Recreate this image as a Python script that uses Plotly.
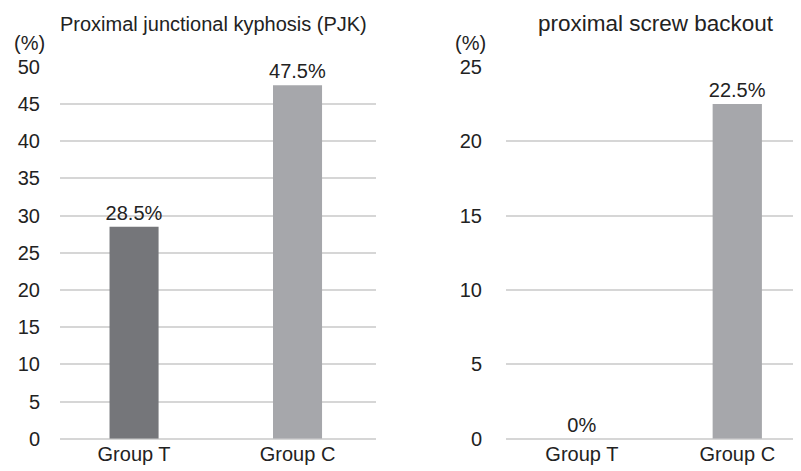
import plotly.graph_objects as go

categories = ["Group T", "Group C"]
pjk_values = [28.5, 47.5]
backout_values = [0, 22.5]
pjk_labels = ["28.5%", "47.5%"]
backout_labels = ["0%", "22.5%"]
bar_colors = ["#75767a", "#a6a7ab"]
left_title = "Proximal junctional kyphosis (PJK)"
right_title = "proximal screw backout"
unit_label = "(%)"

# page offset of the plot div (default body margin)
OFF = 8
W, H = 801 - OFF, 471 - OFF
FONT = "Liberation Sans, Arial, sans-serif"
TXT = "#222222"
GRID = "#d6d6d6"

def px(x):
    return (x - OFF) / W

def py(y):
    return 1 - (y - OFF) / H

fig = go.Figure()
fig.add_trace(go.Bar(
    x=categories, y=pjk_values, text=pjk_labels, textposition="outside",
    constraintext="none",
    marker=dict(color=bar_colors, line=dict(width=0)), width=0.3,
    textfont=dict(size=20, color=TXT, family=FONT), cliponaxis=False,
    xaxis="x", yaxis="y", showlegend=False, hoverinfo="skip"))
fig.add_trace(go.Bar(
    x=categories, y=backout_values, text=backout_labels, textposition="outside",
    constraintext="none",
    marker=dict(color=bar_colors, line=dict(width=0)), width=0.317,
    textfont=dict(size=20, color=TXT, family=FONT), cliponaxis=False,
    xaxis="x2", yaxis="y2", showlegend=False, hoverinfo="skip"))

ydom = [py(438.7), py(66.7)]
axis_font = dict(size=20, color=TXT, family=FONT)
clear = "rgba(0,0,0,0)"

fig.update_layout(
    width=W, height=H,
    margin=dict(l=0, r=0, t=0, b=0),
    paper_bgcolor="white", plot_bgcolor="white",
    font=dict(family=FONT, color=TXT),
    xaxis=dict(domain=[px(60), px(376)], anchor="y", type="category",
               range=[-0.453, 1.48], showgrid=False, showline=False,
               ticks="", tickfont=axis_font, ticklabelstandoff=1,
               automargin=False),
    yaxis=dict(domain=ydom, anchor="x", range=[0, 50], dtick=5,
               showgrid=True, gridcolor=GRID, gridwidth=1.5,
               zeroline=True, zerolinecolor=GRID, zerolinewidth=1.5,
               showline=False, ticks="outside", ticklen=15, tickcolor=clear,
               tickfont=axis_font, automargin=False),
    xaxis2=dict(domain=[px(506), 1.0], anchor="y2", type="category",
                range=[-0.488, 1.41], showgrid=False, showline=False,
                ticks="", tickfont=axis_font, ticklabelstandoff=1,
                automargin=False),
    yaxis2=dict(domain=ydom, anchor="x2", range=[0, 25], dtick=5,
                showgrid=True, gridcolor=GRID, gridwidth=1.5,
                zeroline=True, zerolinecolor=GRID, zerolinewidth=1.5,
                showline=False, ticks="outside", ticklen=19, tickcolor=clear,
                tickfont=axis_font, automargin=False),
    annotations=[
        dict(text=left_title, xref="paper", yref="paper", x=px(58), y=py(24),
             xanchor="left", yanchor="middle", showarrow=False,
             font=dict(size=20, color=TXT, family=FONT)),
        dict(text=right_title, xref="paper", yref="paper", x=px(656), y=py(24),
             xanchor="center", yanchor="middle", showarrow=False,
             font=dict(size=22.5, color=TXT, family=FONT)),
        dict(text=unit_label, xref="paper", yref="paper", x=px(29), y=py(43),
             xanchor="center", yanchor="middle", showarrow=False,
             font=dict(size=20, color=TXT, family=FONT)),
        dict(text=unit_label, xref="paper", yref="paper", x=px(470), y=py(43),
             xanchor="center", yanchor="middle", showarrow=False,
             font=dict(size=20, color=TXT, family=FONT)),
    ],
)

fig.write_html("out.html")
